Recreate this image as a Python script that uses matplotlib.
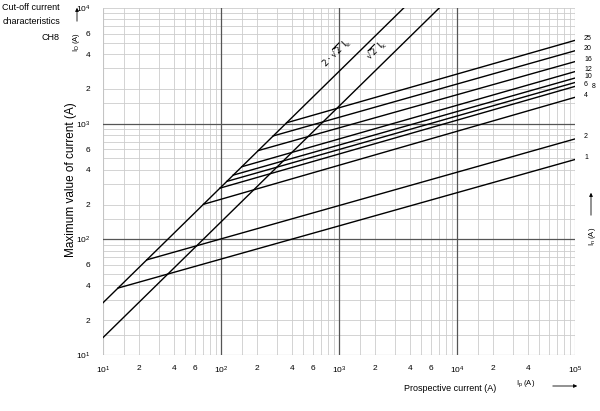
import numpy as np
import matplotlib as mpl
mpl.use('Agg')
from matplotlib import pyplot as plt

plt.rcParams['font.family'] = ['Liberation Sans', 'DejaVu Sans']
plt.rcParams['mathtext.fontset'] = 'custom'
plt.rcParams['mathtext.rm'] = 'Liberation Sans'
plt.rcParams['mathtext.it'] = 'Liberation Sans'

# rated currents In (A), start point Ip on the 2*sqrt2 line, cut-off value at Ip = 1e5
rated = ['1', '2', '4', '6', '8', '10', '12', '16', '20', '25']
ip_start = [13.4, 23.5, 71, 98, 112, 127, 150, 207, 277, 360]
id_end = [490, 738, 1690, 2100, 2270, 2480, 2820, 3440, 4270, 5250]
ip_max = 1e5
diag_factor = [2 * np.sqrt(2), np.sqrt(2)]
diag_label = [r'$2\cdot\sqrt{2}\;\mathrm{I}_\mathrm{k}$', r'$\sqrt{2}\;\mathrm{I}_\mathrm{k}$']

x_ticks = [10, 20, 40, 60, 100, 200, 400, 600, 1000, 2000, 4000, 6000, 10000, 20000, 40000, 100000]
x_labels = [r'$10^{1}$', '2', '4', '6', r'$10^{2}$', '2', '4', '6', r'$10^{3}$', '2', '4', '6',
            r'$10^{4}$', '2', '4', r'$10^{5}$']
y_ticks = [10, 20, 40, 60, 100, 200, 400, 600, 1000, 2000, 4000, 6000, 10000]
y_labels = [r'$10^{1}$', '2', '4', '6', r'$10^{2}$', '2', '4', '6', r'$10^{3}$', '2', '4', '6', r'$10^{4}$']

fig = plt.figure(figsize=(6, 4.11), dpi=100)
ax = fig.add_axes([103/600, 1-355/411, 472/600, 347/411])
ax.set_xscale('log')
ax.set_yscale('log')
ax.set_xlim(10, 1e5)
ax.set_ylim(10, 1e4)

# grid
for dec in [10, 100, 1000, 10000]:
    for m in [1.5, 2, 3, 4, 5, 6, 7, 8, 9]:
        v = dec * m
        if v < 1e5:
            ax.axvline(v, color='#cccccc', lw=0.6, zorder=1)
        if v < 1e4:
            ax.axhline(v, color='#cccccc', lw=0.6, zorder=1)
for v in [100, 1000, 10000]:
    ax.axvline(v, color='#555555', lw=0.9, zorder=2)
for v in [100, 1000]:
    ax.axhline(v, color='#555555', lw=0.9, zorder=2)
ax.axvline(10, color='#c4c4c4', lw=0.8, zorder=1)
ax.axvline(1e5, color='#999999', lw=0.8, zorder=1)
ax.axhline(10, color='#888888', lw=0.8, zorder=1)
ax.axhline(1e4, color='#cccccc', lw=0.6, zorder=1)
for s in ax.spines.values():
    s.set_visible(False)

# diagonal lines
xs = np.array([10, 1e5])
for f in diag_factor:
    ax.plot(xs, f * xs, color='black', lw=1.0, zorder=3)
fig.text(337/600, 1-53/411, diag_label[0], rotation=45, ha='center', va='center', fontsize=6.5,
         math_fontfamily='dejavusans')
fig.text(377/600, 1-50/411, diag_label[1], rotation=45, ha='center', va='center', fontsize=6.5,
         math_fontfamily='dejavusans')

# rated current lines
for lab, x0, y1 in zip(rated, ip_start, id_end):
    ax.plot([x0, ip_max], [diag_factor[0] * x0, y1], color='black', lw=1.0, zorder=3)
    if lab == '8':
        off = (17, -4)
    else:
        off = (9, 2)
    ax.annotate(lab, xy=(ip_max, y1), xycoords='data', xytext=off,
                textcoords='offset pixels', ha='left', va='center', fontsize=5)

ax.set_xticks(x_ticks)
ax.set_xticklabels(x_labels, fontsize=6)
ax.set_yticks(y_ticks)
ax.set_yticklabels(y_labels, fontsize=6)
ax.minorticks_off()
ax.tick_params(length=0, pad=9)
ax.tick_params(axis='x', pad=7)

fig.text(60/600, 1-7/411, 'Cut-off current', ha='right', va='center', fontsize=6.5)
fig.text(60/600, 1-22/411, 'characteristics', ha='right', va='center', fontsize=6.5)
fig.text(60/600, 1-37/411, 'CH8', ha='right', va='center', fontsize=6.5)
fig.text(71/600, 1-180/411, 'Maximum value of current (A)', rotation=90, ha='center', va='center', fontsize=8.5)
fig.text(77/600, 1-42/411, r'$I_D$ (A)', rotation=90, ha='center', va='center', fontsize=5.5)
fig.text(450/600, 1-388/411, 'Prospective current (A)', ha='center', va='center', fontsize=6.5)
fig.text(526/600, 1-384/411, r'$I_p$ (A)', ha='center', va='center', fontsize=5.5)
fig.text(592/600, 1-236/411, r'$I_n$ (A)', rotation=90, ha='center', va='center', fontsize=5.5)
fig.add_artist(mpl.patches.FancyArrowPatch((77/600, 1-24/411), (77/600, 1-5/411), transform=fig.transFigure,
                                           arrowstyle='-|>', mutation_scale=5, lw=0.6, color='black'))
fig.add_artist(mpl.patches.FancyArrowPatch((550/600, 1-386/411), (580/600, 1-386/411), transform=fig.transFigure,
                                           arrowstyle='-|>', mutation_scale=5, lw=0.6, color='black'))
fig.add_artist(mpl.patches.FancyArrowPatch((591/600, 1-218/411), (591/600, 1-190/411), transform=fig.transFigure,
                                           arrowstyle='-|>', mutation_scale=5, lw=0.6, color='black'))

fig.savefig('out.png', dpi=100)
